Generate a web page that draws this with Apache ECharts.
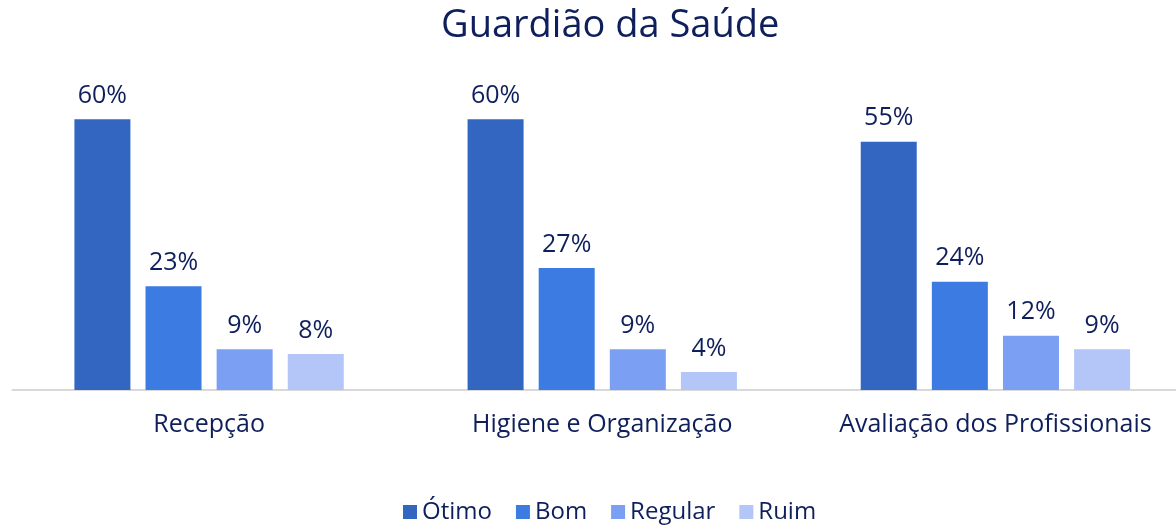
<!DOCTYPE html>
<html>
<head>
<meta charset="utf-8">
<script src="https://cdn.jsdelivr.net/npm/echarts@6/dist/echarts.min.js"></script>
<style>
    html, body { margin: 0; padding: 0; background: #fff; overflow: hidden; }
    #chart { width: 1192px; height: 529px; }
</style>
</head>
<body>
<div id="chart"></div>
<script>
    // categorias e valores (%)
    var categories = ['Recepção', 'Higiene e Organização', 'Avaliação dos Profissionais']
    var otimo = [60, 60, 55]
    var bom = [23, 27, 24]
    var regular = [9, 9, 12]
    var ruim = [8, 4, 9]

    var textColor = '#0f1f5c'
    var font = 'Open Sans'

    function serie(name, data, color) {
        return {
            name: name,
            type: 'bar',
            data: data,
            barWidth: 56,
            barGap: '27%',
            itemStyle: { color: color },
            label: {
                show: true,
                position: 'top',
                distance: 11,
                formatter: '{c}%',
                color: textColor,
                fontFamily: font,
                fontSize: 25
            }
        }
    }

    var chart = echarts.init(document.getElementById('chart'))
    chart.setOption({
        animation: false,
        title: {
            text: 'Guardião da Saúde',
            left: 436,
            top: 2,
            textStyle: { color: textColor, fontFamily: font, fontSize: 38, fontWeight: 'normal' }
        },
        legend: {
            bottom: 0,
            left: 398,
            itemWidth: 14,
            itemHeight: 14,
            itemGap: 24,
            icon: 'rect',
            textStyle: { color: textColor, fontFamily: font, fontSize: 24 },
            data: ['Ótimo', 'Bom', 'Regular', 'Ruim']
        },
        // o grid passa um pouco da borda direita, como no original
        grid: { left: 12.5, right: 0, top: 74, bottom: 139 },
        xAxis: {
            type: 'category',
            data: categories,
            axisLine: { lineStyle: { color: '#d9d9d9', width: 2 } },
            axisTick: { show: false },
            axisLabel: { color: textColor, fontFamily: font, fontSize: 25, margin: 22, interval: 0 }
        },
        yAxis: {
            type: 'value',
            min: 0,
            max: 70,
            show: false,
            splitLine: { show: false }
        },
        series: [
            serie('Ótimo', otimo, '#3366c1'),
            serie('Bom', bom, '#3b7be2'),
            serie('Regular', regular, '#7b9ff3'),
            serie('Ruim', ruim, '#b3c6f7')
        ]
    })
</script>
</body>
</html>
